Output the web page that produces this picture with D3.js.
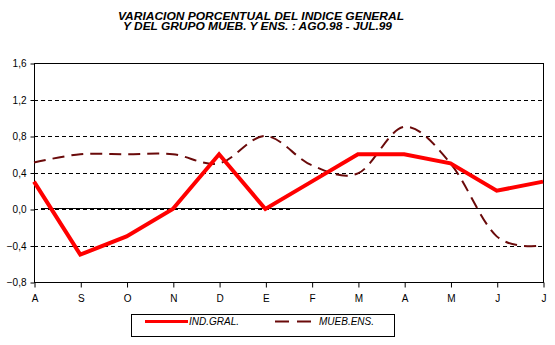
<!DOCTYPE html>
<html><head><meta charset="utf-8">
<script src="https://cdn.jsdelivr.net/npm/d3@7"></script>
<style>body{margin:0;background:#fff}svg{display:block;font-family:"Liberation Sans",Arial,sans-serif}</style>
</head><body>
<script>
const months = ["A","S","O","N","D","E","F","M","A","M","J","J"];
const indGral = [0.3,-0.5,-0.3,0.0,0.6,0.0,0.3,0.6,0.6,0.5,0.2,0.3];
const muebEns = [0.51,0.6,0.6,0.6,0.5,0.8,0.48,0.39,0.9,0.5,-0.3,-0.4];
const yTicks = [-0.8,-0.4,0.0,0.4,0.8,1.2,1.6];
const titleLines = ["VARIACION PORCENTUAL DEL INDICE GENERAL","Y DEL GRUPO MUEB. Y ENS. : AGO.98 - JUL.99"];
const legendLabels = ["IND.GRAL.","MUEB.ENS."];

const W=555,H=345;
const svg=d3.select("body").append("svg").attr("width",W).attr("height",H);
const L=34,R=543,T=63,B=282;
const idx=months.map((d,i)=>i);
const x=d3.scalePoint().domain(idx).range([L,R]);
const y=d3.scaleLinear().domain([-0.8,1.6]).range([B,T]);
const fmt=d=>d3.format(".1f")(d).replace(".",",").replace("-0,0","0,0");

// title
svg.append("text").attr("x",118).attr("y",19.5)
  .attr("font-size",10.4).attr("font-weight","bold").attr("font-style","italic")
  .attr("textLength",286).attr("lengthAdjust","spacingAndGlyphs").text(titleLines[0]);
svg.append("text").attr("x",123).attr("y",29.8)
  .attr("font-size",10.4).attr("font-weight","bold").attr("font-style","italic")
  .attr("textLength",269).attr("lengthAdjust","spacingAndGlyphs").text(titleLines[1]);

// gridlines
svg.append("g").selectAll("line").data(yTicks.filter(v=>v!==0&&v!==-0.8&&v!==1.6)).join("line")
  .attr("x1",L).attr("x2",R).attr("y1",d=>Math.round(y(d))+0.5).attr("y2",d=>Math.round(y(d))+0.5)
  .attr("stroke","#000").attr("stroke-dasharray","4,3");
const y0=Math.round(y(0));
svg.append("line").attr("x1",L).attr("x2",(x(5)+x(6))/2+3).attr("y1",y0+0.5).attr("y2",y0+0.5)
  .attr("stroke","#000").attr("stroke-dasharray","4,3");
svg.append("line").attr("x1",41).attr("x2",R).attr("y1",y0-0.5).attr("y2",y0-0.5).attr("stroke","#000");

// frame
svg.append("rect").attr("x",L+0.5).attr("y",T+0.5).attr("width",R-L).attr("height",B-T)
  .attr("fill","none").attr("stroke","#000");

// y axis
const yAx=d3.axisLeft(y).tickValues(yTicks).tickFormat(fmt).tickSize(4).tickPadding(4);
const gy=svg.append("g").attr("transform",`translate(${L+0.5},0.5)`).call(yAx);
gy.select(".domain").remove();
gy.selectAll("text").attr("font-size",10).attr("font-family","Liberation Sans, Arial, sans-serif").attr("fill","#000");

// x axis
const xAx=d3.axisBottom(x).tickFormat(i=>months[i]).tickSize(5).tickPadding(7);
const gx=svg.append("g").attr("transform",`translate(0.5,${B+0.5})`).call(xAx);
gx.select(".domain").remove();
gx.selectAll("text").attr("font-size",10).attr("font-family","Liberation Sans, Arial, sans-serif").attr("fill","#000");

// series
svg.append("path").datum(muebEns).attr("fill","none").attr("stroke","#6a0a0a").attr("stroke-width",2)
  .attr("stroke-dasharray","12,7")
  .attr("d",d3.line().x((d,i)=>x(i)).y(d=>y(d)).curve(d3.curveCatmullRom.alpha(0)));
svg.append("path").datum(indGral).attr("fill","none").attr("stroke","#ff0000").attr("stroke-width",4)
  .attr("stroke-linejoin","miter")
  .attr("d",d3.line().x((d,i)=>x(i)).y(d=>y(d)));

// legend
const lg=svg.append("g");
lg.append("rect").attr("x",131.5).attr("y",314.5).attr("width",263).attr("height",22).attr("fill","#fff").attr("stroke","#000");
lg.append("line").attr("x1",145).attr("x2",188).attr("y1",321.5).attr("y2",321.5).attr("stroke","#ff0000").attr("stroke-width",3);
lg.append("text").attr("x",189).attr("y",325).attr("font-size",10).attr("font-style","italic").text(legendLabels[0]);
lg.append("line").attr("x1",275).attr("x2",311).attr("y1",321.5).attr("y2",321.5).attr("stroke","#6a0a0a").attr("stroke-width",2).attr("stroke-dasharray","14,8");
lg.append("text").attr("x",319).attr("y",325).attr("font-size",10).attr("font-style","italic").text(legendLabels[1]);
</script>
</body></html>
